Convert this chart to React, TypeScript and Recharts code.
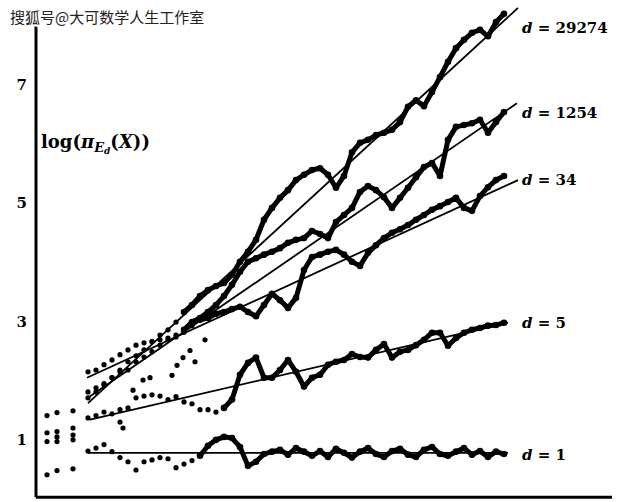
import React from "react";
import { ComposedChart, Line, Scatter, XAxis, YAxis, ReferenceLine } from "recharts";

// x has no scale in the original; positions run 0..576 along the axis
const xs = [
  52, 60, 68, 76, 84, 92, 100, 108, 116, 124, 132, 140, 148, 156, 164, 172, 180, 188,
  196, 204, 212, 220, 228, 236, 244, 252, 260, 268, 276, 284, 292, 300, 308, 316, 324,
  332, 340, 348, 356, 364, 372, 380, 388, 396, 404, 412, 420, 428, 436, 444, 452, 460, 468,
];

const d29274 = [
  1.71, 1.81, 1.95, 2.05, 2.18, 2.32, 2.42, 2.52, 2.66, 2.77, 2.86, 2.99, 3.16, 3.28, 3.43,
  3.53, 3.6, 3.65, 3.79, 4.01, 4.18, 4.38, 4.72, 4.92, 5.09, 5.22, 5.39, 5.48, 5.56, 5.59,
  5.48, 5.26, 5.46, 5.86, 6.02, 6.07, 6.15, 6.19, 6.24, 6.37, 6.63, 6.74, 6.64, 6.88, 7.13,
  7.39, 7.62, 7.76, 7.88, 7.93, 7.82, 8.06, 8.2,
];
const d1254 = [
  1.81, 1.88, 1.93, 2.05, 2.15, 2.18, 2.32, 2.4, 2.49, 2.6, 2.69, 2.77, 2.86, 2.99, 3.06,
  3.16, 3.28, 3.43, 3.62, 3.84, 4.01, 4.07, 4.13, 4.18, 4.24, 4.33, 4.38, 4.41, 4.53, 4.48,
  4.41, 4.68, 4.8, 4.92, 5.19, 5.29, 5.22, 5.1, 4.92, 5.09, 5.26, 5.44, 5.61, 5.68, 5.46,
  6.07, 6.29, 6.32, 6.35, 6.41, 6.19, 6.37, 6.54,
];
const d34 = [
  2.15, 2.18, 2.27, 2.35, 2.44, 2.52, 2.6, 2.64, 2.66, 2.69, 2.72, 2.74, 2.82, 2.93, 3.03,
  3.06, 3.13, 3.16, 3.21, 3.25, 3.16, 3.09, 3.28, 3.47, 3.36, 3.23, 3.4, 3.87, 4.09, 4.13,
  4.18, 4.21, 4.13, 4.01, 3.94, 4.16, 4.29, 4.41, 4.5, 4.56, 4.63, 4.72, 4.8, 4.89, 4.95,
  5.02, 5.09, 4.92, 4.87, 5.12, 5.27, 5.39, 5.46,
];
const d5 = [
  1.37, 1.41, 1.47, 1.44, 1.51, 1.54, 1.71, 1.74, 1.76, 1.74, 1.68, 1.73, 1.64, 1.61, 1.51,
  1.51, 1.47, 1.54, 1.68, 2.1, 2.3, 2.39, 2.05, 2.05, 2.18, 2.35, 2.15, 1.9, 2.05, 2.1,
  2.27, 2.32, 2.35, 2.45, 2.4, 2.39, 2.52, 2.62, 2.39, 2.49, 2.52, 2.6, 2.69, 2.81, 2.81,
  2.59, 2.72, 2.81, 2.86, 2.89, 2.93, 2.94, 2.98,
];
const d1 = [
  0.81, 0.86, 0.92, 0.8, 0.7, 0.63, 0.49, 0.63, 0.66, 0.7, 0.68, 0.53, 0.59, 0.65, 0.73,
  0.9, 1.0, 1.05, 1.03, 0.88, 0.56, 0.63, 0.76, 0.8, 0.83, 0.75, 0.86, 0.8, 0.73, 0.81,
  0.71, 0.85, 0.78, 0.7, 0.8, 0.86, 0.76, 0.71, 0.81, 0.85, 0.75, 0.71, 0.83, 0.88, 0.76,
  0.73, 0.8, 0.86, 0.75, 0.81, 0.71, 0.8, 0.76,
];

const traces = [d29274, d1254, d34, d5, d1];
// index from which the points are dense enough to read as a trace
const denseFrom = [12, 12, 14, 17, 14];

// fitted straight lines: start and end
const fitX = [[52, 482], [52, 481], [51, 482], [54, 472], [52, 472]];
const fitY = [[1.62, 8.3], [1.71, 6.69], [2.05, 5.39], [1.34, 2.98], [0.78, 0.78]];

const labelNames = ["29274", "1254", "34", "5", "1"];
const labelY = [7.96, 6.52, 5.39, 2.98, 0.75];
const labelX = 486;

// scattered points near the origin
const earlyX = [11, 21, 37, 11, 21, 37, 21, 37, 11, 21, 37, 11, 21, 37, 84, 87, 97, 107, 114, 136, 141, 147, 154, 159, 169];
const earlyY = [1.41, 1.46, 1.49, 1.12, 1.14, 1.2, 1.05, 1.08, 0.97, 0.97, 1.0, 0.41, 0.48, 0.51, 1.3, 1.2, 1.84, 2.01, 2.05, 2.09, 2.26, 2.39, 2.51, 2.32, 2.69];

const yTicks = [1, 3, 5, 7];

const serif = "'DejaVu Serif', serif";

const Dot = (props: any) => <circle cx={props.cx} cy={props.cy} r={2.6} fill="#000" />;
const BigDot = (props: any) => <circle cx={props.cx} cy={props.cy} r={3.3} fill="#000" />;

const LabelText = (props: any) => (
  <text
    x={props.cx}
    y={props.cy}
    dominantBaseline="central"
    fontFamily={serif}
    fontWeight="bold"
    fontSize={15}
    fill="#000"
  >
    <tspan fontStyle="italic">d</tspan>
    <tspan> = {props.payload.name}</tspan>
  </text>
);

export default function App() {
  const labels = labelNames.map((name, i) => ({ x: labelX, y: labelY[i], name }));
  const early = earlyX.map((x, i) => ({ x, y: earlyY[i] }));

  return (
    <div style={{ position: "absolute", left: 0, top: 0, width: 640, height: 502, background: "#fff" }}>
      <ComposedChart width={640} height={502} margin={{ top: 2, right: 28, bottom: 3, left: 0 }}>
        <XAxis type="number" dataKey="x" domain={[0, 576]} hide allowDataOverflow />
        <YAxis
          type="number"
          domain={[0, 8.4]}
          ticks={yTicks}
          interval={0}
          width={36}
          axisLine={false}
          tickLine={false}
          tickMargin={3}
          tick={{ fill: "#000", fontSize: 15, fontWeight: "bold", fontFamily: serif }}
          allowDataOverflow
        />
        <ReferenceLine segment={[{ x: 0, y: 0.03 }, { x: 0, y: 8.04 }]} stroke="#000" strokeWidth={3} />
        <ReferenceLine segment={[{ x: 0, y: 0.03 }, { x: 576, y: 0.03 }]} stroke="#000" strokeWidth={3} />

        {fitX.map((fx, i) => (
          <Line
            key={"fit" + i}
            data={[{ x: fx[0], y: fitY[i][0] }, { x: fx[1], y: fitY[i][1] }]}
            dataKey="y"
            type="linear"
            stroke="#000"
            strokeWidth={1.8}
            dot={false}
            isAnimationActive={false}
          />
        ))}

        {traces.map((vals, i) => (
          <Line
            key={"tr" + i}
            data={xs.slice(denseFrom[i]).map((x, j) => ({ x, y: vals[j + denseFrom[i]] }))}
            dataKey="y"
            type="linear"
            stroke="#000"
            strokeWidth={5}
            strokeLinejoin="round"
            dot={BigDot}
            isAnimationActive={false}
          />
        ))}

        {traces.map((vals, i) => (
          <Scatter
            key={"pt" + i}
            data={xs.slice(0, denseFrom[i]).map((x, j) => ({ x, y: vals[j] }))}
            dataKey="y"
            shape={Dot}
            isAnimationActive={false}
          />
        ))}

        <Scatter data={early} dataKey="y" shape={Dot} isAnimationActive={false} />
        <Scatter data={labels} dataKey="y" shape={LabelText} isAnimationActive={false} />
      </ComposedChart>

      <svg width={640} height={502} style={{ position: "absolute", left: 0, top: 0, pointerEvents: "none" }}>
        <text
          x={10}
          y={23}
          fontFamily="'Noto Sans CJK SC', sans-serif"
          fontSize={15}
          fill="#222"
          stroke="#fff"
          strokeWidth={3}
          paintOrder="stroke"
        >
          搜狐号@大可数学人生工作室
        </text>
        <text x={41} y={148} fontFamily={serif} fontWeight="bold" fontSize={18} fill="#000">
          log(<tspan fontStyle="italic">π</tspan>
          <tspan fontStyle="italic" fontSize={13} dy={4}>E</tspan>
          <tspan fontStyle="italic" fontSize={9} dy={2}>d</tspan>
          <tspan dy={-6}>(</tspan>
          <tspan fontStyle="italic">X</tspan>))
        </text>
      </svg>
    </div>
  );
}
